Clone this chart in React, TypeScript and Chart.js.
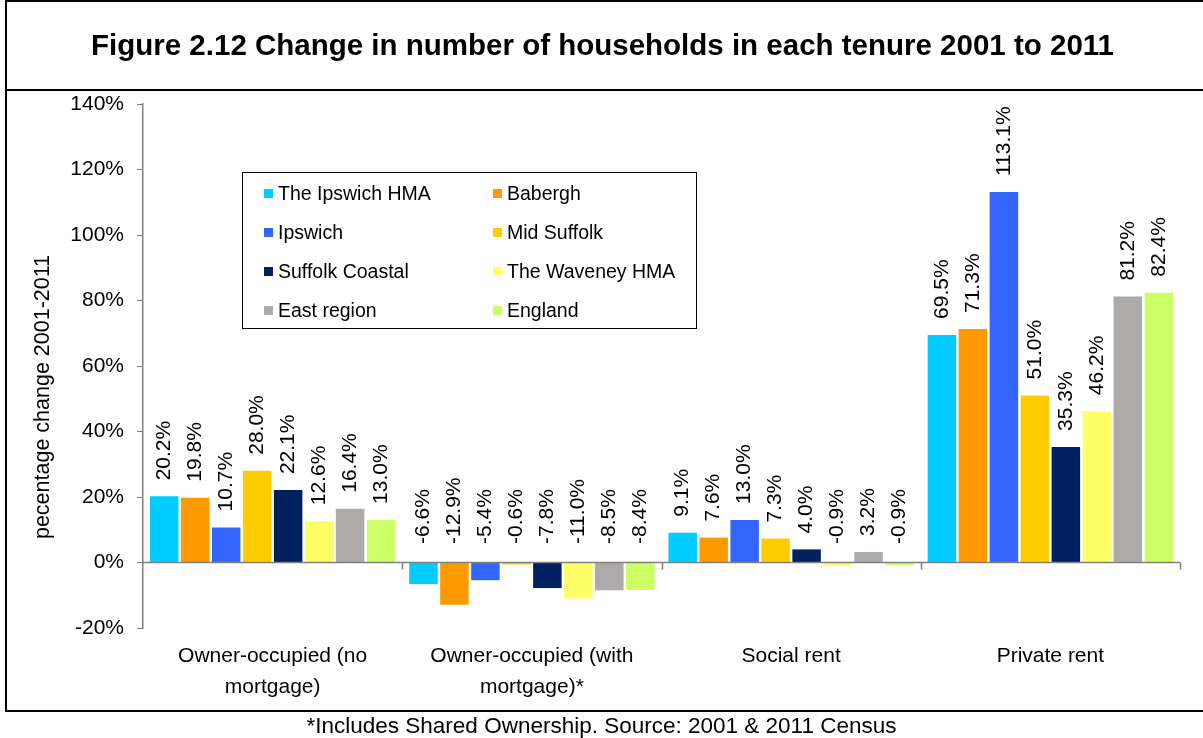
import React, { useEffect, useRef } from "react";
import { Chart, registerables } from "chart.js";

Chart.register(...registerables);

const FONT = '"Liberation Sans", Arial, Helvetica, sans-serif';

const titleText = "Figure 2.12 Change in number of households in each tenure 2001 to 2011";
const yAxisTitle = "pecentage change 2001-2011";
const footnote = "*Includes Shared Ownership. Source: 2001 & 2011 Census";

const categories: string[][] = [
  ["Owner-occupied (no", "mortgage)"],
  ["Owner-occupied (with", "mortgage)*"],
  ["Social rent"],
  ["Private rent"],
];

const seriesNames = [
  "The Ipswich HMA",
  "Babergh",
  "Ipswich",
  "Mid Suffolk",
  "Suffolk Coastal",
  "The Waveney HMA",
  "East region",
  "England",
];

const seriesColors = [
  "#00CCFF",
  "#FF9900",
  "#3366FF",
  "#FFCC00",
  "#002060",
  "#FFFF66",
  "#AEAAA9",
  "#CCFF66",
];

const ipswichHMA = [20.2, -6.6, 9.1, 69.5];
const babergh = [19.8, -12.9, 7.6, 71.3];
const ipswich = [10.7, -5.4, 13.0, 113.1];
const midSuffolk = [28.0, -0.6, 7.3, 51.0];
const suffolkCoastal = [22.1, -7.8, 4.0, 35.3];
const waveneyHMA = [12.6, -11.0, -0.9, 46.2];
const eastRegion = [16.4, -8.5, 3.2, 81.2];
const england = [13.0, -8.4, -0.9, 82.4];

const seriesValues = [ipswichHMA, babergh, ipswich, midSuffolk, suffolkCoastal, waveneyHMA, eastRegion, england];

const yMin = -20;
const yMax = 140;
const yStep = 20;

const overlayPlugin = {
  id: "overlayLabels",
  afterDatasetsDraw(chart: any) {
    const { ctx, chartArea, scales } = chart;
    const y0 = scales.y.getPixelForValue(0);
    ctx.save();
    ctx.strokeStyle = "#808080";
    ctx.lineWidth = 1.5;
    ctx.beginPath();
    ctx.moveTo(chartArea.left, y0);
    ctx.lineTo(chartArea.right, y0);
    const n = chart.data.labels.length;
    const w = (chartArea.right - chartArea.left) / n;
    for (let i = 1; i <= n; i++) {
      const x = Math.round(chartArea.left + w * i) + 0.5;
      ctx.moveTo(x, y0);
      ctx.lineTo(x, y0 + 7);
    }
    ctx.stroke();

    ctx.fillStyle = "#000";
    ctx.font = `21px ${FONT}`;
    ctx.textAlign = "left";
    ctx.textBaseline = "middle";
    chart.data.datasets.forEach((ds: any, di: number) => {
      const meta = chart.getDatasetMeta(di);
      meta.data.forEach((el: any, i: number) => {
        const v = ds.data[i] as number;
        const top = Math.min(el.y, el.base);
        const y = top - (v >= 0 ? 16 : 19);
        ctx.save();
        ctx.translate(el.x, y);
        ctx.rotate(-Math.PI / 2);
        ctx.fillText(v.toFixed(1) + "%", 0, 0);
        ctx.restore();
      });
    });
    ctx.restore();
  },
};

function ChartCanvas() {
  const ref = useRef<HTMLCanvasElement | null>(null);
  useEffect(() => {
    if (!ref.current) return;
    const chart = new Chart(ref.current, {
      type: "bar",
      data: {
        labels: categories as any,
        datasets: seriesNames.map((name, i) => ({
          label: name,
          data: seriesValues[i],
          backgroundColor: seriesColors[i],
          borderWidth: 0,
          barPercentage: 0.92,
          categoryPercentage: 0.956,
        })),
      },
      options: {
        responsive: false,
        maintainAspectRatio: false,
        animation: false,
        layout: { padding: { top: 104, right: 23, left: 0, bottom: 0 } },
        plugins: {
          legend: { display: false },
          tooltip: { enabled: false },
          title: { display: false },
        },
        scales: {
          x: {
            grid: { display: false },
            border: { display: false },
            ticks: {
              color: "#000",
              font: { family: FONT, size: 21, lineHeight: 1.48 },
              padding: 5,
              maxRotation: 0,
              minRotation: 0,
              autoSkip: false,
            },
            afterFit: (scale: any) => {
              scale.height = 110;
            },
          },
          y: {
            min: yMin,
            max: yMax,
            grid: {
              display: true,
              drawOnChartArea: false,
              drawTicks: true,
              tickLength: 6,
              color: "#808080",
            },
            border: { display: true, color: "#808080", width: 1.5 },
            ticks: {
              stepSize: yStep,
              color: "#000",
              font: { family: FONT, size: 21 },
              padding: 13,
              callback: (v: any) => `${v}%`,
            },
            afterFit: (scale: any) => {
              scale.width = 143;
            },
          },
        },
      },
      plugins: [overlayPlugin],
    });
    return () => chart.destroy();
  }, []);
  return (
    <canvas
      ref={ref}
      width={1203}
      height={738}
      style={{ position: "absolute", left: 0, top: 0, width: 1203, height: 738 }}
    />
  );
}

const legendRows = [
  [0, 1],
  [2, 3],
  [4, 5],
  [6, 7],
];

export default function App() {
  return (
    <div
      style={{
        position: "fixed",
        left: 0,
        top: 0,
        width: 1203,
        height: 738,
        overflow: "hidden",
        background: "#fff",
        fontFamily: FONT,
        color: "#000",
      }}
    >
      <ChartCanvas />
      <div
        style={{
          position: "absolute",
          left: 5,
          top: 0,
          width: 1210,
          height: 712,
          border: "2px solid #000",
          boxSizing: "border-box",
          pointerEvents: "none",
        }}
      />
      <div style={{ position: "absolute", left: 5, top: 89, width: 1210, height: 2, background: "#000" }} />
      <div
        style={{
          position: "absolute",
          left: 5,
          top: 0,
          width: 1195,
          height: 90,
          display: "flex",
          alignItems: "center",
          justifyContent: "center",
          fontWeight: "bold",
          fontSize: 29.5,
          whiteSpace: "nowrap",
        }}
      >
        {titleText}
      </div>
      <div
        style={{
          position: "absolute",
          left: 42,
          top: 397,
          transform: "translate(-50%, -50%) rotate(-90deg)",
          fontSize: 21.5,
          whiteSpace: "nowrap",
        }}
      >
        {yAxisTitle}
      </div>
      <div
        style={{
          position: "absolute",
          left: 242,
          top: 172,
          width: 455,
          height: 157,
          border: "1px solid #000",
          boxSizing: "border-box",
          background: "#fff",
        }}
      >
        {legendRows.map((row, ri) =>
          row.map((si, ci) => (
            <div
              key={si}
              style={{
                position: "absolute",
                left: ci === 0 ? 21 : 250,
                top: 20 + ri * 39 - 12,
                height: 24,
                display: "flex",
                alignItems: "center",
                fontSize: 19.5,
                whiteSpace: "nowrap",
              }}
            >
              <span
                style={{
                  display: "inline-block",
                  width: 9,
                  height: 9,
                  background: seriesColors[si],
                  marginRight: 5,
                }}
              />
              {seriesNames[si]}
            </div>
          ))
        )}
      </div>
      <div
        style={{
          position: "absolute",
          left: 0,
          top: 712,
          width: 1203,
          height: 28,
          display: "flex",
          alignItems: "center",
          justifyContent: "center",
          fontSize: 22.5,
          whiteSpace: "nowrap",
        }}
      >
        {footnote}
      </div>
    </div>
  );
}
